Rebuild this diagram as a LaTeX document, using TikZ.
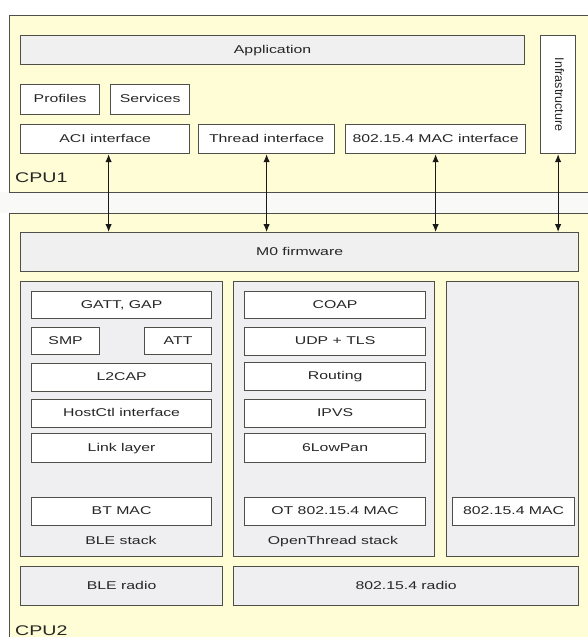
\documentclass[tikz,border=0pt]{standalone}
\usepackage{fontspec}
\setmainfont{Liberation Sans}[FakeStretch=1.4]
\newfontfamily\infrafont{Liberation Sans}
\usetikzlibrary{arrows.meta}
\definecolor{cpuyellow}{HTML}{FFFDD6}
\definecolor{panelgray}{HTML}{EFEFF1}
\definecolor{appgray}{HTML}{F0F0F0}
\definecolor{bordercol}{HTML}{4F4F49}
\definecolor{gapcol}{HTML}{F9F9F7}
\newcommand{\boxfont}{\fontsize{11.3}{13}\selectfont}
\newcommand{\cpufont}{\fontsize{14}{16}\selectfont}
\begin{document}
\begin{tikzpicture}[x=1pt,y=-1pt,
  every node/.style={inner sep=0pt, font=\boxfont, text=black!85, text height=8.2pt, text depth=2.4pt},
  box/.style={draw=bordercol, line width=1.2pt, fill=white, anchor=north west, align=center},
  graybox/.style={box, fill=appgray},
  panel/.style={box, fill=panelgray},
  cpubox/.style={draw=bordercol, line width=1pt, fill=cpuyellow},
  cpulabel/.style={anchor=west, font=\cpufont, text height=10pt, text depth=0pt},
  stacklabel/.style={anchor=center},
  arr/.style={{Latex[length=8pt,width=6.5pt]}-{Latex[length=8pt,width=6.5pt]}, line width=1pt, draw=black!90}]
\useasboundingbox (0,0) rectangle (588,637);
\clip (0,0) rectangle (588,637);
\fill[white] (0,0) rectangle (588,637);
\fill[gapcol] (0,192) rectangle (588,213);
% CPU1
\draw[cpubox] (9,15) rectangle (600,192);
\node[graybox, minimum width=504, minimum height=29] (app) at (20,35) {Application};
\node[box, minimum width=35, minimum height=118] (infra) at (540,35) {};
\node[rotate=-90, font=\infrafont\fontsize{12.5}{14}\selectfont] (infratext) at (infra.center) {Infrastructure};
\node[box, minimum width=79, minimum height=30] (profiles) at (20,84) {Profiles};
\node[box, minimum width=79, minimum height=30] (services) at (110,84) {Services};
\node[box, minimum width=169, minimum height=29] (aci) at (20,124) {ACI interface};
\node[box, minimum width=136, minimum height=29] (thread) at (198,124) {Thread interface};
\node[box, minimum width=180, minimum height=29] (maci) at (345,124) {802.15.4 MAC interface};
\node[cpulabel] (cpu1) at (15,177) {CPU1};
% CPU2
\draw[cpubox] (9,213) rectangle (600,660);
\node[graybox, minimum width=558, minimum height=39] (m0) at (20,232) {M0 firmware};
\node[panel, minimum width=202, minimum height=275] (ble) at (20,281) {};
\node[panel, minimum width=201, minimum height=275] (ot) at (233,281) {};
\node[panel, minimum width=132, minimum height=275] (mac) at (446,281) {};
% BLE stack
\node[box, minimum width=180, minimum height=27] (gatt) at (31,291) {GATT, GAP};
\node[box, minimum width=68, minimum height=27] (smp) at (31,327) {SMP};
\node[box, minimum width=67, minimum height=27] (att) at (144,327) {ATT};
\node[box, minimum width=180, minimum height=28] (l2cap) at (31,363) {L2CAP};
\node[box, minimum width=180, minimum height=28] (hostctl) at (31,399) {HostCtl interface};
\node[box, minimum width=180, minimum height=29] (link) at (31,433) {Link layer};
\node[box, minimum width=180, minimum height=28] (btmac) at (31,497) {BT MAC};
\node[stacklabel] (blelabel) at (121,542) {BLE stack};
% OpenThread stack
\node[box, minimum width=181, minimum height=27] (coap) at (244,291) {COAP};
\node[box, minimum width=181, minimum height=28] (udp) at (244,327) {UDP + TLS};
\node[box, minimum width=181, minimum height=28] (routing) at (244,362) {Routing};
\node[box, minimum width=181, minimum height=28] (ipvs) at (244,399) {IPVS};
\node[box, minimum width=181, minimum height=29] (lowpan) at (244,433) {6LowPan};
\node[box, minimum width=181, minimum height=28] (otmac) at (244,497) {OT 802.15.4 MAC};
\node[stacklabel] (otlabel) at (333,542) {OpenThread stack};
% third panel
\node[box, minimum width=122, minimum height=28] (mac3) at (452,497) {802.15.4 MAC};
% radios
\node[graybox, fill=panelgray, minimum width=202, minimum height=39] (bleradio) at (20,566) {BLE radio};
\node[graybox, fill=panelgray, minimum width=345, minimum height=39] (radio) at (233,566) {802.15.4 radio};
\node[cpulabel] (cpu2) at (15,630) {CPU2};
% arrows
\draw[arr] ([xshift=3.5pt]aci.south) -- ([xshift=3.5pt]aci.south |- m0.north);
\draw[arr] (thread.south) -- (thread.south |- m0.north);
\draw[arr] (maci.south) -- (maci.south |- m0.north);
\draw[arr] (infra.south) -- (infra.south |- m0.north);
\end{tikzpicture}
\end{document}
